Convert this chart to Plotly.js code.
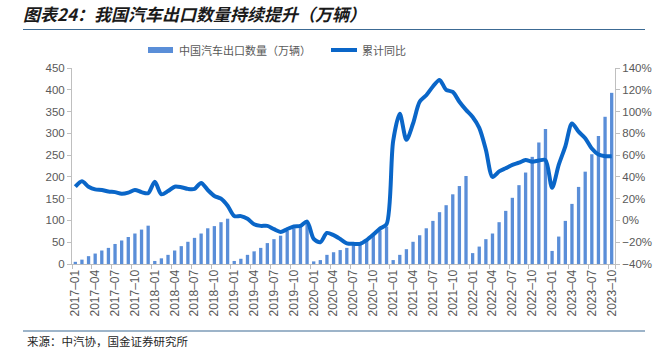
<!DOCTYPE html>
<html>
<head>
<meta charset="utf-8">
<script src="https://cdn.plot.ly/plotly-3.0.1.min.js"></script>
<style>html,body{margin:0;padding:0;background:#fff;}#chart{width:667px;height:355px;}
.gtitle{font-style:italic !important;}</style>
</head>
<body>
<div id="chart"></div>
<script>
// Months (categories)
var months = [
'2017-01','2017-02','2017-03','2017-04','2017-05','2017-06','2017-07','2017-08','2017-09','2017-10','2017-11','2017-12',
'2018-01','2018-02','2018-03','2018-04','2018-05','2018-06','2018-07','2018-08','2018-09','2018-10','2018-11','2018-12',
'2019-01','2019-02','2019-03','2019-04','2019-05','2019-06','2019-07','2019-08','2019-09','2019-10','2019-11','2019-12',
'2020-01','2020-02','2020-03','2020-04','2020-05','2020-06','2020-07','2020-08','2020-09','2020-10','2020-11','2020-12',
'2021-01','2021-02','2021-03','2021-04','2021-05','2021-06','2021-07','2021-08','2021-09','2021-10','2021-11','2021-12',
'2022-01','2022-02','2022-03','2022-04','2022-05','2022-06','2022-07','2022-08','2022-09','2022-10','2022-11','2022-12',
'2023-01','2023-02','2023-03','2023-04','2023-05','2023-06','2023-07','2023-08','2023-09','2023-10'
];
// 中国汽车出口数量（万辆）, cumulative within each year
var exports2017 = [5, 10, 18, 24, 31, 37, 46, 54, 62, 70, 79, 88];
var exports2018 = [7, 13, 21, 31, 41, 51, 60, 70, 82, 87, 96, 104];
var exports2019 = [7, 12, 21, 29, 37, 48, 57, 65, 76, 82, 89, 99];
var exports2020 = [6, 9, 21, 27, 32, 37, 44, 48, 57, 66, 77, 86];
var exports2021 = [9, 21, 34, 51, 66, 82, 99, 119, 135, 160, 179, 202];
var exports2022 = [25, 40, 57, 70, 96, 122, 152, 181, 210, 246, 279, 310];
var exports2023 = [30, 63, 99, 138, 177, 212, 252, 294, 338, 393];
// 累计同比 (%)
var yoy2017 = [31, 36, 31, 28.5, 28, 26.5, 26, 24.5, 25.5, 28, 26, 25];
var yoy2018 = [35.5, 24, 27, 31, 30.5, 29, 29, 34.5, 28, 22.5, 20, 13.5];
var yoy2019 = [4, 4, 1.5, -3.5, -5, -5, -8, -10.5, -8, -5.5, -5, -1];
var yoy2020 = [-17, -20, -11.5, -13.5, -17, -21, -21.5, -21.5, -18, -13, -7.5, -3.5];
var yoy2021 = [73, 98, 74, 89, 109, 115, 123, 129, 120, 118, 109, 101.5];
var yoy2022 = [95, 85, 65, 40, 45, 48, 51, 53, 55.5, 54, 55, 55.5];
var yoy2023 = [30, 51, 68, 89, 81.5, 75.5, 66, 60.5, 59, 59];
// Tick labels
var tickMonths = ['2017-01','2017-04','2017-07','2017-10','2018-01','2018-04','2018-07','2018-10',
'2019-01','2019-04','2019-07','2019-10','2020-01','2020-04','2020-07','2020-10',
'2021-01','2021-04','2021-07','2021-10','2022-01','2022-04','2022-07','2022-10',
'2023-01','2023-04','2023-07','2023-10'];
var leftTicks = [0, 50, 100, 150, 200, 250, 300, 350, 400, 450];
var rightTicks = [-40, -20, 0, 20, 40, 60, 80, 100, 120, 140];
var rightTickText = ['−40%', '−20%', '0%', '20%', '40%', '60%', '80%', '100%', '120%', '140%'];
var seriesNames = ['中国汽车出口数量（万辆）', '累计同比'];

var exportsAll = [].concat(exports2017, exports2018, exports2019, exports2020, exports2021, exports2022, exports2023);
var yoyAll = [].concat(yoy2017, yoy2018, yoy2019, yoy2020, yoy2021, yoy2022, yoy2023);
var tickText = tickMonths.map(function(s){ return s.replace('-', '–'); });

var barColor = '#5a8ed8';
var lineColor = '#0a66c8';
var axisColor = '#bfbfbf';
var textColor = '#595959';
var fontFam = 'Liberation Sans, Arial, "Noto Sans CJK SC", sans-serif';
var cjkFam = '"Noto Sans CJK SC", "Liberation Sans", sans-serif';

var traces = [
  {type: 'bar', x: months, y: exportsAll, name: seriesNames[0], marker: {color: barColor}, yaxis: 'y', showlegend: false, hoverinfo: 'x+y'},
  {type: 'scatter', mode: 'lines', x: months, y: yoyAll, name: seriesNames[1], yaxis: 'y2',
   line: {color: lineColor, width: 4, shape: 'spline', smoothing: 0.8}, showlegend: false}
];

// pixel -> paper helpers (plot area: x 72..615, y 68..264)
function px(x){ return (x - 72) / 543; }
function py(y){ return (264 - y) / 196; }

var layout = {
  width: 667, height: 355,
  margin: {l: 72, r: 52, t: 68, b: 91, pad: 0},
  paper_bgcolor: '#fff', plot_bgcolor: '#fff',
  bargap: 0.5,
  font: {family: fontFam, color: textColor},
  title: {text: '<b><i>图表24：我国汽车出口数量持续提升（万辆）</i></b>', x: 23/667, xanchor: 'left', xref: 'container',
          y: 1 - 15/355, yanchor: 'middle', yref: 'container',
          font: {family: cjkFam, size: 17, weight: 'bold', style: 'italic', color: '#1a1a1a'}},
  xaxis: {type: 'category', tickmode: 'array', tickvals: tickMonths, ticktext: tickText, tickangle: -90,
          ticks: 'outside', ticklen: 4, tickcolor: axisColor, tickson: 'boundaries',
          showline: true, linecolor: axisColor, linewidth: 1, showgrid: false, zeroline: false,
          tickfont: {size: 12, color: textColor, family: fontFam}, range: [-0.5, months.length - 0.5]},
  yaxis: {range: [0, 450], tickmode: 'array', tickvals: leftTicks, ticks: 'outside', ticklen: 4, tickcolor: axisColor,
          showline: true, linecolor: axisColor, showgrid: false, zeroline: false,
          tickfont: {size: 11.5, color: textColor, family: fontFam}},
  yaxis2: {range: [-40, 140], tickmode: 'array', tickvals: rightTicks, ticktext: rightTickText, overlaying: 'y', side: 'right',
           ticks: 'outside', ticklen: 4, tickcolor: axisColor, showline: true, linecolor: axisColor,
           showgrid: false, zeroline: false, tickfont: {size: 11.5, color: textColor, family: fontFam}},
  shapes: [
    {type: 'line', xref: 'paper', yref: 'paper', x0: px(23), x1: px(645), y0: py(29.5), y1: py(29.5), line: {color: '#3c6a94', width: 1.2}},
    {type: 'line', xref: 'paper', yref: 'paper', x0: px(23), x1: px(645), y0: py(331), y1: py(331), line: {color: '#3c6a94', width: 1.2}},
    {type: 'rect', xref: 'paper', yref: 'paper', x0: px(148), x1: px(173), y0: py(53), y1: py(47), fillcolor: barColor, line: {width: 0}},
    {type: 'line', xref: 'paper', yref: 'paper', x0: px(331), x1: px(357), y0: py(50), y1: py(50), line: {color: lineColor, width: 4}}
  ],
  annotations: [
    {xref: 'paper', yref: 'paper', x: px(177), y: py(50), xanchor: 'left', yanchor: 'middle', showarrow: false,
     text: seriesNames[0], font: {family: cjkFam, size: 11, color: textColor}},
    {xref: 'paper', yref: 'paper', x: px(360), y: py(50), xanchor: 'left', yanchor: 'middle', showarrow: false,
     text: seriesNames[1], font: {family: cjkFam, size: 11, color: textColor}},
    {xref: 'paper', yref: 'paper', x: px(25), y: py(341), xanchor: 'left', yanchor: 'middle', showarrow: false,
     text: '来源：中汽协，国金证券研究所', font: {family: cjkFam, size: 11.5, color: '#262626'}}
  ]
};

Plotly.newPlot('chart', traces, layout, {staticPlot: true, displayModeBar: false});
</script>
</body>
</html>
